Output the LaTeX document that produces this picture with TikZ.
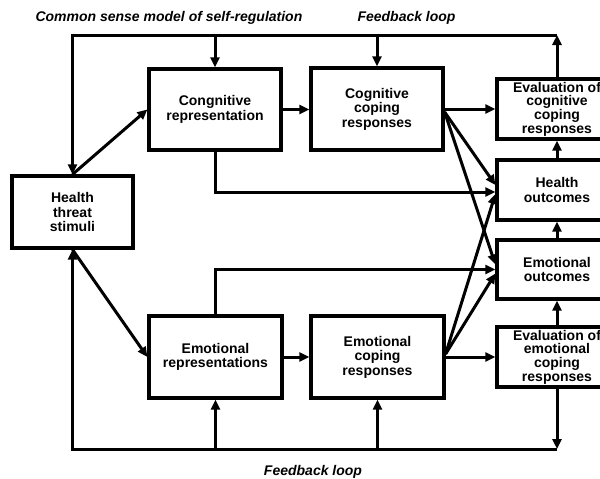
\documentclass[tikz,border=0pt]{standalone}
\usepackage{fontspec}
\setmainfont{Liberation Sans}
\usetikzlibrary{arrows.meta}

\begin{document}
\begin{tikzpicture}
        [x=1pt, y=-1pt,
        box/.style={draw, line width=3.2pt, align=center, inner sep=0pt,
            font=\fontsize{14}{14.6}\selectfont\bfseries},
        evalbox/.style={box, minimum width=120pt, minimum height=60pt,
            font=\fontsize{14}{13.6}\selectfont\bfseries},
        arr/.style={line width=3pt, -{Triangle[length=10pt,width=9pt]}},
        caption/.style={font=\fontsize{14}{16}\selectfont\bfseries\itshape}]

        \useasboundingbox (0,0) rectangle (600,479);

        % left and middle columns
        \node[box, minimum width=121pt, minimum height=72pt] (hts) at (72.5,212) {Health\\threat\\stimuli};
        \node[box, minimum width=132pt, minimum height=81pt] (crep) at (215,109.5) {Congnitive\\representation};
        \node[box, minimum width=132pt, minimum height=82pt] (ccope) at (377,109) {Cognitive\\coping\\responses};
        \node[box, minimum width=133pt, minimum height=82pt] (erep) at (215.5,357) {Emotional\\representations};
        \node[box, minimum width=133pt, minimum height=82pt] (ecope) at (377.5,357) {Emotional\\coping\\responses};

        % right column
        \node[evalbox] (evalc) at (557,109) {Evaluation of\\cognitive\\coping\\responses};
        \node[box, minimum width=120pt, minimum height=60pt] (hout) at (557,190) {Health\\outcomes};
        \node[box, minimum width=120pt, minimum height=59pt] (eout) at (557,269.5) {Emotional\\outcomes};
        \node[evalbox] (evale) at (557,357) {Evaluation of\\emotional\\coping\\responses};

        % captions
        \node[caption, anchor=west] (title) at (32,18) {Common sense model of self-regulation};
        \node[caption, anchor=west] (fbtop) at (354,18) {Feedback loop};
        \node[caption] (fbbot) at (313,472) {Feedback loop};

        % --- feedback loops ---
        \coordinate (topR) at (557,35);
        \coordinate (botR) at (557,449);

        \draw[arr] (evalc.north) -- (topR);
        \draw[arr] (topR) -| (hts.north);
        \draw[arr] (crep.north |- topR) -- (crep.north);
        \draw[arr] (ccope.north |- topR) -- (ccope.north);

        \draw[arr] (evale.south) -- (botR);
        \draw[arr] (botR) -| (hts.south);
        \draw[arr] (erep.south |- botR) -- (erep.south);
        \draw[arr] (ecope.south |- botR) -- (ecope.south);

        % --- main paths ---
        \draw[arr] (hts.north) -- (crep.west);
        \draw[arr] (hts.south) -- (erep.west);
        \draw[arr] (crep.east) -- (crep.east -| ccope.west);
        \draw[arr] (ccope.east) -- (evalc.west);
        \draw[arr] (erep.east) -- (erep.east -| ecope.west);
        \draw[arr] (ecope.east) -- (evale.west);

        \draw[arr] (hout.north) -- (evalc.south);
        \draw[arr] (eout.north) -- (hout.south);
        \draw[arr] (evale.north) -- (eout.south);

        \draw[arr] (crep.south) |- ([yshift=-2pt]hout.west);
        \draw[arr] (erep.north) |- (eout.west);

        % crossing arrows to the outcomes
        \coordinate (cfan) at ([yshift=-3pt]ccope.east);
        \coordinate (efan) at ([yshift=3pt]ecope.east);
        \draw[arr] (cfan) -- ([yshift=5pt]hout.west);
        \draw[arr] (cfan) -- ([yshift=5pt]eout.west);
        \draw[arr] (efan) -- ([yshift=-4pt]hout.west);
        \draw[arr] (efan) -- ([yshift=-4pt]eout.west);
    \end{tikzpicture}
\end{document}
